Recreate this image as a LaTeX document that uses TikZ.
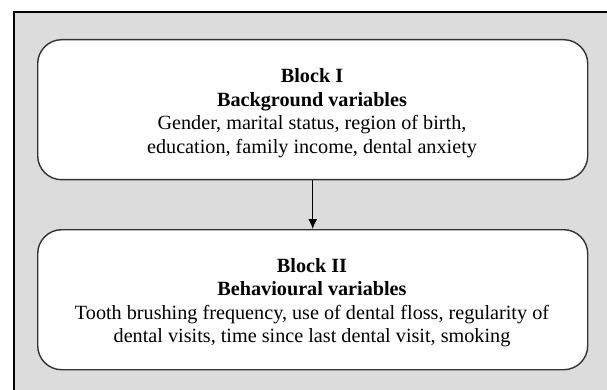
\documentclass[tikz,border=0pt]{standalone}
\usepackage{fontspec}
\setmainfont{Liberation Serif}
\usetikzlibrary{arrows.meta}
\definecolor{panelgray}{HTML}{DCDCDC}
\definecolor{boxline}{HTML}{333333}
\tikzset{
  blockbox/.style={draw=boxline, line width=1.4pt, fill=white, rounded corners=24pt,
    minimum width=550pt, minimum height=140pt, inner sep=0pt, anchor=north west},
  line/.style={anchor=base, inner sep=0pt, font=\fontsize{20.2pt}{24pt}\selectfont},
  headline/.style={line, font=\fontsize{20.2pt}{24pt}\selectfont\bfseries},
  flow/.style={line width=1.2pt, draw=black, -{Latex[length=10pt,width=9pt]}}
}
\begin{document}
\begin{tikzpicture}[x=1pt,y=-1pt]
\useasboundingbox (0,0) rectangle (607,390);
\fill[panelgray] (14,12) rectangle (607,390);
\draw[line width=1.5pt] (14,390) -- (14,12) -- (607,12);
\node[blockbox] (b1) at (37,39) {};
\node[blockbox] (b2) at (37,229) {};
\node[headline] (t1a) at (312,83) {Block I};
\node[headline] (t1b) at (312,106.5) {Background variables};
\node[line] (t1c) at (312,130) {Gender, marital status, region of birth,};
\node[line] (t1d) at (312,153.5) {education, family income, dental anxiety};
\node[headline] (t2a) at (312,272) {Block II};
\node[headline] (t2b) at (312,295.5) {Behavioural variables};
\node[line] (t2c) at (312,319) {Tooth brushing frequency, use of dental floss, regularity of};
\node[line] (t2d) at (312,342.5) {dental visits, time since last dental visit, smoking};
\draw[flow] (b1.south) -- (b2.north);
\end{tikzpicture}
\end{document}
